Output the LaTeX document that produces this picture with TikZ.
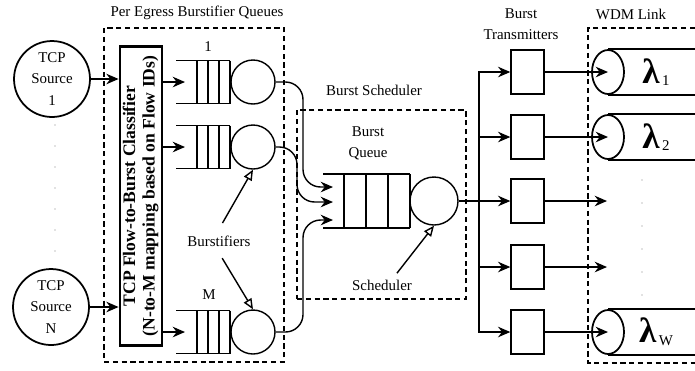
\documentclass[tikz,border=0pt]{standalone}
\usepackage{fontspec}
\setmainfont{Liberation Serif}
\usetikzlibrary{positioning, shapes.geometric, arrows.meta}

% queue with open left end: left x, centre y, cell width, half height
\newcommand{\fifo}[4]{%
  \draw (#1,#2-#4) -- ++(21+3*#3,0) (#1,#2+#4) -- ++(21+3*#3,0);
  \foreach \k in {0,...,3} \draw (#1+21+\k*#3,#2-#4) -- ++(0,2*#4);
}
\newcommand{\lam}[1]{{\fontsize{20}{20}\selectfont\bfseries λ}\,\raisebox{-1.5pt}{#1}}

\begin{document}
\begin{tikzpicture}[
    x=0.02cm, y=-0.02cm, line width=0.8pt,
    font=\fontsize{8.5}{12}\selectfont,
    src/.style={circle, draw, line width=1pt, minimum size=1.52cm, inner sep=0pt, align=center},
    srv/.style={circle, draw, minimum size=0.88cm, inner sep=0pt},
    txbox/.style={rectangle, draw, minimum width=0.66cm, minimum height=0.88cm},
    fibre/.style={ellipse, draw, line width=1pt, minimum width=0.64cm, minimum height=0.88cm, inner sep=0pt},
    grp/.style={rectangle, draw, dash pattern=on 3pt off 2pt, line width=0.9pt},
    arr/.style={-{Stealth[length=7pt, width=6pt]}},
    oarr/.style={-{Triangle[open, length=6pt, width=5pt]}}
]
    \useasboundingbox (0,0) rectangle (695,370);

    % groups
    \node[grp, minimum width=3.6cm, minimum height=6.68cm] (peq) at (194,195) {};
    \node (peqlbl) at (197,13) {Per Egress Burstifier Queues};
    \node[grp, minimum width=3.38cm, minimum height=3.78cm] (bsch) at (381.5,204.5) {};
    \node (bschlbl) at (374,90) {Burst Scheduler};
    \draw[dash pattern=on 3pt off 2pt, line width=0.9pt] (695,28) -- (588,28) -- (588,363) -- (695,363);
    \node (wdmlbl) at (631,14) {WDM Link};
    \node[align=center] (txlbl) at (521,24.5) {Burst\\Transmitters};

    % sources
    \node[src] (src1) at (52,79) {TCP\\Source\\1};
    \node[src] (srcN) at (51,307) {TCP\\Source\\N};
    \foreach \y in {125,146,...,252} \fill[gray] (55,\y) circle (0.7);

    % classifier
    \node[draw, line width=1.6pt, minimum width=0.84cm, minimum height=5.98cm, inner sep=0pt,
          font=\fontsize{10}{11}\selectfont\bfseries] (cls) at (141,196)
          {\rotatebox{90}{\begin{tabular}{@{}c@{}}TCP Flow-to-Burst Classifier\\(N-to-M mapping based on Flow IDs)\end{tabular}}};
    \draw[arr] (src1.east) -- (src1.east -| cls.west);
    \draw[arr] (srcN.east) -- (srcN.east -| cls.west);

    % burstifiers
    \foreach \n/\y in {1/82, 2/147, M/332} {
        \fifo{176}{\y}{11}{21.5}
        \node[srv] (s\n) at (253,\y) {};
        \coordinate (q\n) at (185,\y);
        \draw[arr] (cls.east |- q\n) -- (q\n);
    }
    \node (lbl1) at (208,47) {1};
    \node (lblM) at (209,295) {M};
    \node (bfl) at (219,241) {Burstifiers};
    \draw[oarr, shorten <=4pt] (bfl.north) -- (s2.south);
    \draw[oarr, shorten <=3.5pt] (bfl.south) -- (sM.north);

    % burst queue and scheduler
    \fifo{323}{201}{22}{27}
    \node[circle, draw, minimum size=0.96cm, inner sep=0pt] (bs) at (434,201) {};
    \node[align=center] (bql) at (368,143.5) {Burst\\Queue};
    \node (schl) at (382,285) {Scheduler};
    \draw[oarr] ([xshift=8.5pt]schl.north) -- (bs.south);
    \coordinate (in1) at (333,187);
    \coordinate (in2) at (333,202);
    \coordinate (in3) at (333,220);
    \draw[arr, rounded corners=10pt] (s1.east) -| ([xshift=-0.6cm]in1) -- (in1);
    \draw[arr, rounded corners=10pt] (s2.east) -| ([xshift=-0.72cm]in2) -- (in2);
    \draw[arr, rounded corners=10pt] (sM.east) -| ([xshift=-0.6cm]in3) -- (in3);

    % transmitters
    \coordinate (bus) at (479,0);
    \foreach \i/\y in {1/72, 2/137, 3/201, 4/267, 5/332}
        \node[txbox] (t\i) at (527.5,\y) {};
    \draw[arr] (bs.east) -- (t3.west);
    \draw[arr] (bus |- t3) |- (t1.west);
    \draw[arr] (bus |- t3) |- (t5.west);
    \draw[arr] (bus |- t2) -- (t2.west);
    \draw[arr] (bus |- t4) -- (t4.west);

    % WDM link
    \coordinate (rim) at (695,0);
    \foreach \i/\j/\y in {1/1/72, 2/2/137, 5/W/332} {
        \node[fibre] (f\i) at (608,\y) {};
        \draw (f\i.north) -- (f\i.north -| rim);
        \draw (f\i.south) -- (f\i.south -| rim);
        \draw[arr] (t\i.east) -- (f\i.center);
        \node (lam\i) at (656,\y) {\lam{\j}};
    }
    \coordinate (o3) at (607,201);
    \coordinate (o4) at (607,267);
    \draw[arr] (t3.east) -- (o3);
    \draw[arr] (t4.east) -- (o4);
    \foreach \y in {180,203,...,298} \fill[gray] (642,\y) circle (0.7);
\end{tikzpicture}
\end{document}
